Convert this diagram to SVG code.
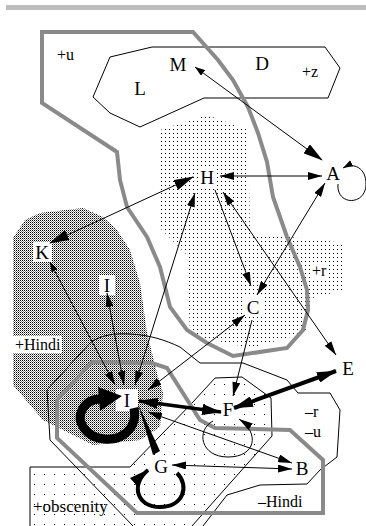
<svg xmlns="http://www.w3.org/2000/svg" width="366" height="526" viewBox="0 0 366 526">
<style>
.t{font-family:"Liberation Serif","Times New Roman",serif;font-size:19px;fill:#000;text-anchor:middle}
.l{font-family:"Liberation Serif","Times New Roman",serif;font-size:16px;fill:#000}
.thin{fill:none;stroke:#000;stroke-width:1}
.gray{fill:none;stroke:#8a8a8a;stroke-width:4;stroke-linejoin:miter}
.c{fill:none;stroke:#000;stroke-width:1}
.bg{fill:#fff}
pattern rect{shape-rendering:crispEdges}
</style>
<defs>
<pattern id="dense" width="2" height="2" patternUnits="userSpaceOnUse"><rect width="2" height="2" fill="#fff"/><rect width="1" height="1" fill="#000"/><rect x="1" y="1" width="1" height="1" fill="#888"/></pattern>
<pattern id="sparse" width="4" height="4" patternUnits="userSpaceOnUse"><rect x="1" y="1" width="1" height="1" fill="#000"/></pattern>
<pattern id="sparse2" width="10" height="10" patternUnits="userSpaceOnUse"><rect x="4" y="4" width="1" height="1" fill="#000"/></pattern>
<marker id="as" markerUnits="userSpaceOnUse" markerWidth="10" markerHeight="7" refX="10" refY="3.5" orient="auto-start-reverse"><path d="M0,0 L10,3.5 L0,7 z" fill="#000"/></marker>
<marker id="am" markerUnits="userSpaceOnUse" markerWidth="14" markerHeight="8" refX="14" refY="4" orient="auto-start-reverse"><path d="M0,0 L14,4 L0,8 z" fill="#000"/></marker>
<marker id="ab" markerUnits="userSpaceOnUse" markerWidth="20" markerHeight="11" refX="19" refY="5.5" orient="auto-start-reverse"><path d="M0,0 L20,5.5 L0,11 z" fill="#000"/></marker>
</defs>
<rect width="366" height="526" fill="#fff"/>
<rect x="6" y="5" width="360" height="5" fill="#bdbdbd"/>

<g id="regions">
<polygon points="13,238 25,220 40,213 83,208 103,217 117,230 130,250 140,283 147,333 157,373 163,393 160,427 140,440 93,445 43,420 13,385" fill="url(#dense)"/>
<polygon points="160,130 207,115 248,130 250,235 290,237 345,243 345,290 312,298 305,333 250,348 190,335 187,255 160,228" fill="url(#sparse)"/>
<polygon points="30,526 30,467 130,467 193,402 215,378 242,377 271,398 272,436 192,526" fill="url(#sparse2)"/>
<polygon class="thin" points="110,57 152,47 325,47 340,68 328,98 204,98 140,127 110,113 93,97"/>
<path class="thin" d="M133,526 L50,440 L47,390 L90,343 C100,335 115,333 130,334 C150,335 165,340 180,347 L200,363 L243,363 L287,380 L298,393 L330,393 L340,410 L337,457 L320,470 L307,484 L260,485 L227,495 L203,526"/>
<path class="thin" d="M30,526 L30,467 L130,467 L193,402 L215,378 L242,377 L271,398 L272,436 L192,526"/>
<polygon class="gray" points="42,32 193,32 218,60 233,80 248,107 258,133 267,162 273,197 287,237 300,267 307,290 308,310 303,330 287,348 233,356 207,343 187,330 170,307 160,267 147,237 127,207 120,180 117,152 42,103"/>
<polygon class="gray" points="92,362 152,363 167,368 200,420 215,428 290,430 323,460 323,513 137,513 57,438 57,400"/>
</g>

<g id="labels">
<rect class="bg" x="13" y="336" width="49" height="17"/>
<rect class="bg" x="311" y="263" width="17" height="15"/>
<text class="l" x="57" y="60">+u</text>
<text class="l" x="302" y="77">+z</text>
<text class="l" x="312" y="276">+r</text>
<text class="l" x="15" y="350">+Hindi</text>
<text class="l" x="305" y="417">–r</text>
<text class="l" x="305" y="437">–u</text>
<text class="l" x="258" y="507">–Hindi</text>
<text class="l" x="33" y="512" style="font-size:17px">+obscenity</text>
</g>

<g id="node-bgs">
<rect class="bg" x="198" y="167" width="19" height="20"/>
<rect class="bg" x="33" y="242" width="19" height="20"/>
<rect class="bg" x="99" y="275" width="16" height="20"/>
<rect class="bg" x="244" y="297" width="18" height="20"/>
<rect class="bg" x="116" y="389" width="22" height="22"/>
<rect class="bg" x="219" y="400" width="18" height="19"/>
<rect class="bg" x="152" y="456" width="18" height="20"/>
</g>

<g id="connectors">
<line class="c" x1="195" y1="67" x2="322" y2="160" marker-start="url(#as)" marker-end="url(#ab)"/>
<line class="c" x1="220" y1="176" x2="322" y2="176" marker-start="url(#am)" marker-end="url(#am)"/>
<path class="c" d="M338,184 C336,206 366,206 366,184 C366,168 354,162 343,168" marker-end="url(#as)"/>
<line class="c" x1="193" y1="177" x2="50" y2="243" marker-start="url(#ab)" marker-end="url(#ab)"/>
<line class="c" x1="50" y1="262" x2="115" y2="385" marker-start="url(#as)" marker-end="url(#am)"/>
<line class="c" x1="107" y1="293" x2="124" y2="385" marker-start="url(#am)" marker-end="url(#am)"/>
<line class="c" x1="195" y1="193" x2="135" y2="385" marker-start="url(#am)" marker-end="url(#am)"/>
<line class="c" x1="245" y1="315" x2="148" y2="390" marker-start="url(#am)" marker-end="url(#am)"/>
<line class="c" x1="215" y1="190" x2="251" y2="286" marker-end="url(#am)"/>
<line class="c" x1="325" y1="183" x2="257" y2="295" marker-start="url(#am)" marker-end="url(#am)"/>
<line class="c" x1="223" y1="192" x2="336" y2="355" marker-start="url(#am)" marker-end="url(#am)"/>
<line class="c" x1="252" y1="320" x2="233" y2="396" marker-end="url(#am)"/>
<line class="c" x1="336" y1="371" x2="234" y2="408" style="stroke-width:4" marker-start="url(#ab)" marker-end="url(#ab)"/>
<line class="c" x1="139" y1="401" x2="221" y2="412" style="stroke-width:3.5" marker-start="url(#ab)" marker-end="url(#ab)"/>
<line class="c" x1="148" y1="412" x2="292" y2="463" marker-start="url(#am)" marker-end="url(#am)"/>
<polygon points="138,404 160,451 153,455" fill="#000"/>
<line class="c" x1="172" y1="465" x2="292" y2="469" marker-start="url(#am)" marker-end="url(#am)"/>
<path class="c" d="M213,421 C196,430 200,457 228,457 C256,457 260,433 239,419" marker-end="url(#am)"/>
<path class="c" d="M177,473 C190,486 183,507 160,507 C137,507 130,485 148,470" style="stroke-width:4" marker-end="url(#ab)"/>
<path class="c" d="M134,408 C138,428 122,441 104,439 C86,437 76,422 82,410 C86,402 93,399 101,399" style="stroke-width:9"/>
<polygon points="98,387 122,396 100,411" fill="#000"/>
</g>

<g id="node-M"><text class="t" x="178" y="71">M</text></g>
<g id="node-D"><text class="t" x="262" y="70">D</text></g>
<g id="node-L"><text class="t" x="140" y="95">L</text></g>
<g id="node-H"><text class="t" x="207" y="184">H</text></g>
<g id="node-A"><text class="t" x="333" y="180">A</text></g>
<g id="node-K"><text class="t" x="42" y="259">K</text></g>
<g id="node-I"><text class="t" x="107" y="292">I</text></g>
<g id="node-C"><text class="t" x="253" y="314">C</text></g>
<g id="node-E"><text class="t" x="348" y="375">E</text></g>
<g id="node-J"><text class="t" x="127" y="407">I</text></g>
<g id="node-F"><text class="t" x="228" y="416">F</text></g>
<g id="node-G"><text class="t" x="161" y="473">G</text></g>
<g id="node-B"><text class="t" x="302" y="475">B</text></g>
</svg>
